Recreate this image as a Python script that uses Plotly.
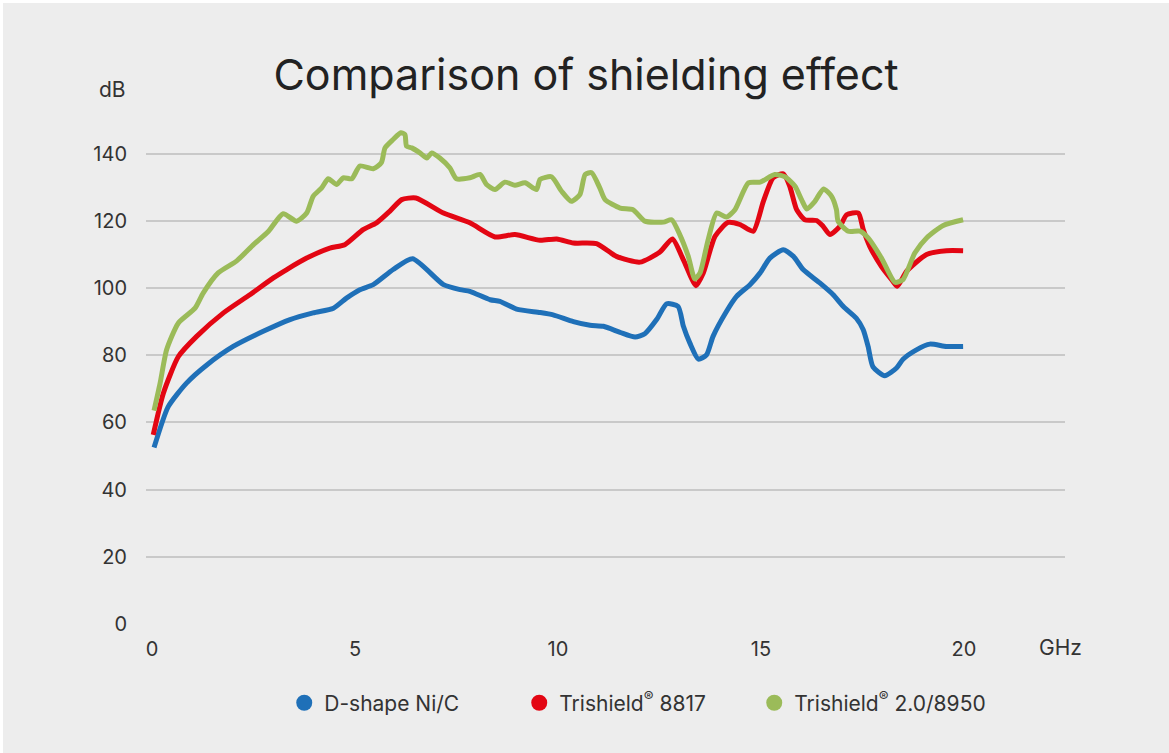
import plotly.graph_objects as go

# D-shape Ni/C
blue_x = [0.05, 0.40, 0.85, 1.35, 2.0, 2.74, 3.40, 3.97, 4.47, 4.79, 5.12, 5.45, 5.94, 6.42,
          7.18, 7.59, 7.83, 8.33, 8.57, 8.98, 9.56, 9.88, 10.38, 10.79, 11.12, 11.53, 11.90,
          12.14, 12.43, 12.68, 12.96, 13.09, 13.25, 13.46, 13.66, 13.82, 14.15, 14.4, 14.73,
          14.98, 15.22, 15.55, 15.8, 16.04, 16.45, 16.78, 17.03, 17.35, 17.52, 17.64, 17.76,
          18.05, 18.34, 18.5, 18.83, 19.16, 19.57, 19.98]
blue_y = [52.5, 64.7, 71.7, 77.1, 82.6, 87.1, 90.6, 92.6, 94.0, 97.0, 99.5, 101, 105.5, 108.7,
          101, 99.5, 99, 96.5, 96, 93.7, 92.7, 92, 90, 88.9, 88.6, 86.8, 85.4,
          86.4, 90.6, 95.3, 94.5, 88.6, 83.6, 78.8, 80.1, 85.6, 93, 97.5, 101,
          104.5, 108.9, 111.4, 109.4, 105.5, 101.5, 98, 94.5, 91, 87.6, 82.6, 76.5,
          73.9, 76.2, 78.8, 81.6, 83.3, 82.6, 82.6]

# Trishield 8817
red_x = [0.03, 0.28, 0.65, 1.10, 1.76, 2.41, 2.99, 3.32, 3.81, 4.38, 4.75, 5.2, 5.53, 5.86,
         6.15, 6.5, 7.18, 7.83, 8.45, 8.94, 9.56, 9.97, 10.38, 10.95, 11.44, 12.02, 12.51,
         12.82, 13.09, 13.4, 13.58, 13.87, 14.19, 14.48, 14.81, 15.06, 15.3, 15.55, 15.71,
         15.88, 16.08, 16.37, 16.53, 16.7, 16.95, 17.11, 17.4, 17.52, 17.68, 17.97, 18.22,
         18.36, 18.59, 19.08, 19.57, 19.98]
red_y = [56.3, 68.7, 79.6, 85.6, 92.6, 98, 103, 105.5, 108.9, 111.9, 112.9, 117.4, 119.4, 122.9,
         126.3, 126.8, 122.3, 119.4, 115.2, 115.9, 114.2, 114.6, 113.4, 113.2, 109.4, 107.7, 110.7,
         114.6, 108.4, 100.7, 104.5, 115.4, 119.5, 118.9, 116.9, 125.8, 132.8, 134.0, 130.3,
         123.3, 120.3, 120.1, 118.4, 115.9, 118.4, 121.8, 122.3, 117.4, 112.4, 106.4, 102.5,
         100.5, 105, 110, 111.1, 111.1]

# Trishield 2.0/8950
green_x = [0.05, 0.2, 0.36, 0.65, 1.06, 1.26, 1.63, 2.08, 2.5, 2.87, 3.23, 3.56, 3.81, 3.97,
           4.18, 4.34, 4.55, 4.71, 4.92, 5.12, 5.45, 5.65, 5.74, 5.94, 6.13, 6.23, 6.27, 6.4,
           6.6, 6.77, 6.89, 7.09, 7.34, 7.5, 7.83, 8.08, 8.24, 8.45, 8.69, 8.94, 9.19, 9.47,
           9.56, 9.84, 10.09, 10.33, 10.54, 10.67, 10.83, 11.03, 11.16, 11.53, 11.85, 12.14,
           12.6, 12.8, 13.0, 13.21, 13.37, 13.5, 13.7, 13.91, 14.15, 14.36, 14.69, 14.98,
           15.34, 15.59, 15.84, 16.0, 16.13, 16.33, 16.54, 16.74, 16.86, 16.9, 17.15, 17.44,
           17.64, 17.97, 18.3, 18.5, 18.79, 19.08, 19.49, 19.98]
green_y = [63.5, 71.7, 81.6, 89.6, 94, 98.5, 104.5, 108, 112.9, 116.9, 122.1, 119.9, 122.3, 127.3,
           129.8, 132.5, 130.8, 132.8, 132.5, 136.3, 135.5, 137.3, 141.7, 144.2, 146.2, 145.7, 142.2, 141.7,
           140.2, 138.7, 140.2, 138.7, 135.7, 132.5, 132.8, 133.8, 130.8, 129.3, 131.5, 130.6, 131.3, 129.3,
           132.3, 133.1, 128.8, 125.8, 127.8, 133.8, 134.3, 129.8, 126.3, 123.8, 123.3, 119.9,
           119.6, 120.3, 115.9, 109.4, 102.7, 104.5, 114.4, 122.3, 121.1, 123.3, 131.3, 131.5,
           133.8, 133.1, 130.3, 126.3, 123.5, 125.8, 129.5, 127.3, 123.3, 119.9, 116.9, 116.9,
           114.9, 108.9, 101.7, 102.5, 110.4, 114.9, 118.6, 120.3]

series_names = ["D-shape Ni/C", "Trishield<sup>®</sup> 8817", "Trishield<sup>®</sup> 2.0/8950"]
series_colors = ["#1f70b8", "#e30613", "#9bbb59"]
y_ticks = [0, 20, 40, 60, 80, 100, 120, 140]
x_ticks = [0, 5, 10, 15, 20]

FONT = "Inter, Roboto, sans-serif"
TXT = "#333333"

fig = go.Figure()
for i, (xs, ys, name, col) in enumerate(zip([blue_x, red_x, green_x], [blue_y, red_y, green_y],
                                            series_names, series_colors)):
    fig.add_trace(go.Scatter(
        x=xs, y=ys, name=name, mode="lines", legendgroup=f"g{i}", showlegend=False,
        line=dict(color=col, width=5, shape="spline", smoothing=0.6),
    ))
    # legend entry drawn as a round dot
    fig.add_trace(go.Scatter(
        x=[None], y=[None], name=name, mode="markers", legendgroup=f"g{i}",
        marker=dict(color=col, size=17, symbol="circle"), hoverinfo="skip",
    ))

fig.update_layout(
    width=1166, height=750,
    paper_bgcolor="#ededed", plot_bgcolor="#ededed",
    margin=dict(l=143, r=104, t=117, b=129),
    font=dict(family=FONT, color=TXT, size=20),
    title=dict(text="Comparison of shielding effect", x=0.5, xanchor="center",
               y=0.904, yanchor="middle", font=dict(family=FONT, size=43, color="#222222")),
    showlegend=True,
    legend=dict(orientation="h", x=0.534, xanchor="center", y=-0.157, yanchor="middle",
                font=dict(family=FONT, size=21, color=TXT), itemsizing="trace",
                bgcolor="rgba(0,0,0,0)", entrywidth=190, entrywidthmode="pixels",
                itemclick=False, itemdoubleclick=False),
    xaxis=dict(range=[-0.148, 22.49], tickvals=x_ticks, showgrid=False, zeroline=False,
               showline=False, ticks="", tickfont=dict(size=20, color=TXT),
               ticklabelstandoff=11),
    yaxis=dict(range=[0, 150], tickvals=y_ticks, showgrid=True, gridcolor="#c9c9c9",
               gridwidth=2, zeroline=False, showline=False, ticks="",
               tickfont=dict(size=20, color=TXT), ticklabelstandoff=18),
    annotations=[
        dict(text="dB", xref="paper", yref="paper", x=-0.0196, y=1.06, xanchor="right",
             yanchor="middle", showarrow=False, font=dict(size=21, color=TXT)),
        dict(text="GHz", xref="paper", yref="paper", x=0.9946, y=-0.0476, xanchor="center",
             yanchor="middle", showarrow=False, font=dict(size=21, color=TXT)),
    ],
)

fig.write_html("out.html", post_script="document.body.style.margin='3px 0 0 3px';")
